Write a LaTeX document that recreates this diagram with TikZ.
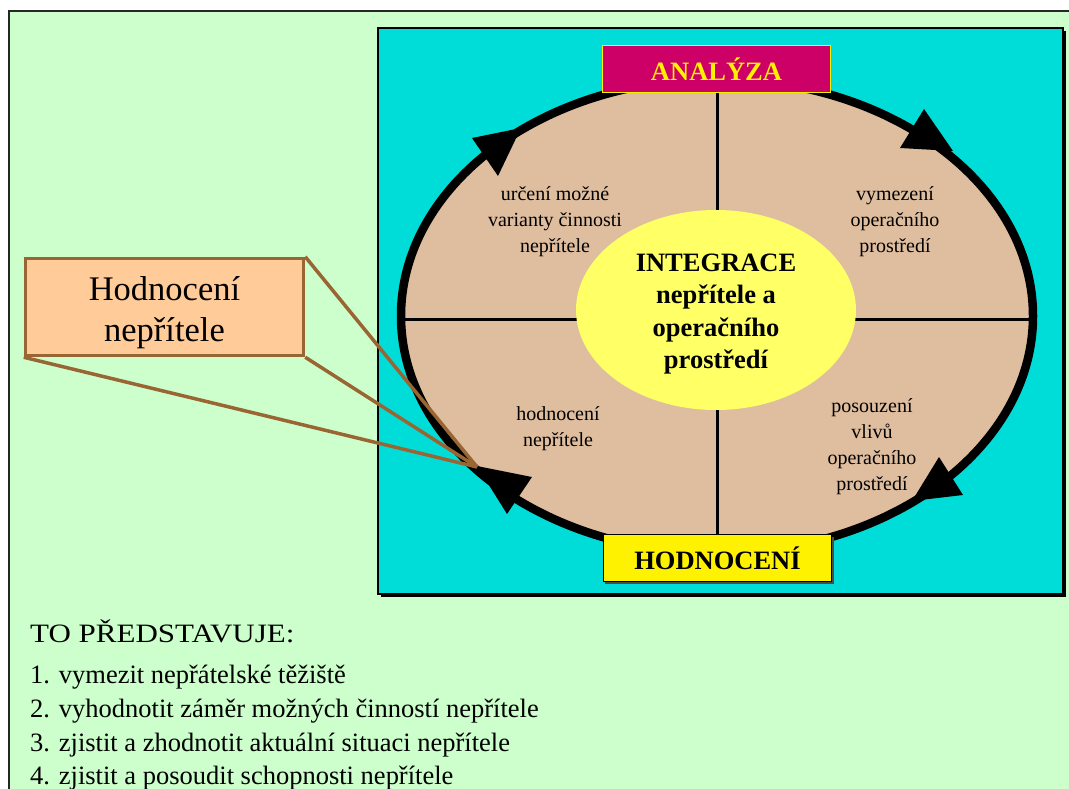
\documentclass[tikz,border=0pt]{standalone}
\usepackage{fontspec}
\setmainfont{Liberation Serif}
\definecolor{bggreen}{HTML}{CCFFCC}
\definecolor{cyanbg}{HTML}{00DDD8}
\definecolor{tanfill}{HTML}{DFBE9F}
\definecolor{paleyellow}{HTML}{FFFF66}
\definecolor{magentabox}{HTML}{CC0066}
\definecolor{peach}{HTML}{FFCC99}
\definecolor{brownline}{HTML}{996633}
\begin{document}
\begin{tikzpicture}[x=1pt,y=-1pt,
  lbl/.style={font=\fontsize{20}{26}\selectfont, align=center, inner sep=0pt},
  bigbold/.style={font=\fontsize{26.5}{32.5}\selectfont\bfseries, align=center, inner sep=0pt},
  phasebox/.style={minimum width=228pt, minimum height=47pt, inner sep=0pt, font=\fontsize{26.5}{30}\selectfont\bfseries},
  calloutbox/.style={draw=brownline, fill=peach, line width=3.5pt, minimum width=278pt, minimum height=97pt, inner sep=0pt},
  callouttextstyle/.style={inner sep=0pt, align=center, font=\fontsize{34.5}{41}\selectfont},
  calloutline/.style={draw=brownline, line width=3.5pt, line join=round},
  arrowhead/.style={fill=black},
  listtext/.style={anchor=base west, inner sep=0pt, font=\fontsize{26.5}{34}\selectfont}]
\useasboundingbox (0,0) rectangle (1069,789);
\fill[white] (0,0) rectangle (1069,789);
% outer green panel
\draw[fill=bggreen, line width=1.5pt, draw=black!85] (9,11) rectangle (1090,810);
% cyan panel with shadow
\fill[black] (381,31) rectangle (1066,597);
\draw[fill=cyanbg, line width=2.5pt] (378,28) rectangle (1063,594);
% cycle ellipse
\draw[fill=tanfill, line width=8.5pt] (717,316) ellipse [x radius=316pt, y radius=237pt];
\draw[line width=3pt] (717,79) -- (717,553);
\draw[line width=3pt] (401,319) -- (1033,319);
% arrowheads (clockwise)
\fill[arrowhead] (472,138) -- (521,128) -- (498,176) -- cycle;
\fill[arrowhead] (924,109) -- (900,148) -- (953,151) -- cycle;
\fill[arrowhead] (939,457) -- (963,495) -- (912,501) -- cycle;
\fill[arrowhead] (532,477) -- (507,514) -- (477,466) -- cycle;
% centre ellipse
\fill[paleyellow] (716,310) ellipse [x radius=140pt, y radius=100pt];
\node[bigbold] (integ) at (716,314) {INTEGRACE\\nepřítele a\\operačního\\prostředí};
% sector labels
\node[lbl] (s1) at (555,222) {určení možné\\varianty činnosti\\nepřítele};
\node[lbl] (s2) at (895,222) {vymezení\\operačního\\prostředí};
\node[lbl] (s3) at (558,429) {hodnocení\\nepřítele};
\node[lbl] (s4) at (872,447) {posouzení\\vlivů\\operačního\\prostředí};
% phase boxes
\node[phasebox, fill=magentabox, draw=yellow, line width=1.5pt, text=yellow] (analyza) at (716.5,69) {ANALÝZA};
\fill[black!70] (605,537) rectangle (834,584);
\node[phasebox, fill=yellow, draw=black, line width=1.2pt] (hodnoceni) at (717.5,558) {HODNOCENÍ};
% callout
\coordinate (cp) at (477,467);
\node[calloutbox] (callout) at (164.5,307) {};
\node[callouttextstyle] (callouttext) at (164.5,313) {Hodnocení\\nepřítele};
\draw[calloutline] (callout.north east) -- (cp);
\draw[calloutline] (callout.south east) -- (cp);
\draw[calloutline] (callout.south west) -- (cp);
% bottom text
\node[anchor=base west, inner sep=0pt, font=\fontsize{26.5}{34}\selectfont\addfontfeature{FakeStretch=1.17}] (title) at (30,642) {TO PŘEDSTAVUJE:};
\node[listtext] (l1) at (30,683) {1. vymezit nepřátelské těžiště};
\node[listtext] (l2) at (30,717) {2. vyhodnotit záměr možných činností nepřítele};
\node[listtext] (l3) at (30,751) {3. zjistit a zhodnotit aktuální situaci nepřítele};
\node[listtext] (l4) at (30,784) {4. zjistit a posoudit schopnosti nepřítele};
\end{tikzpicture}
\end{document}
